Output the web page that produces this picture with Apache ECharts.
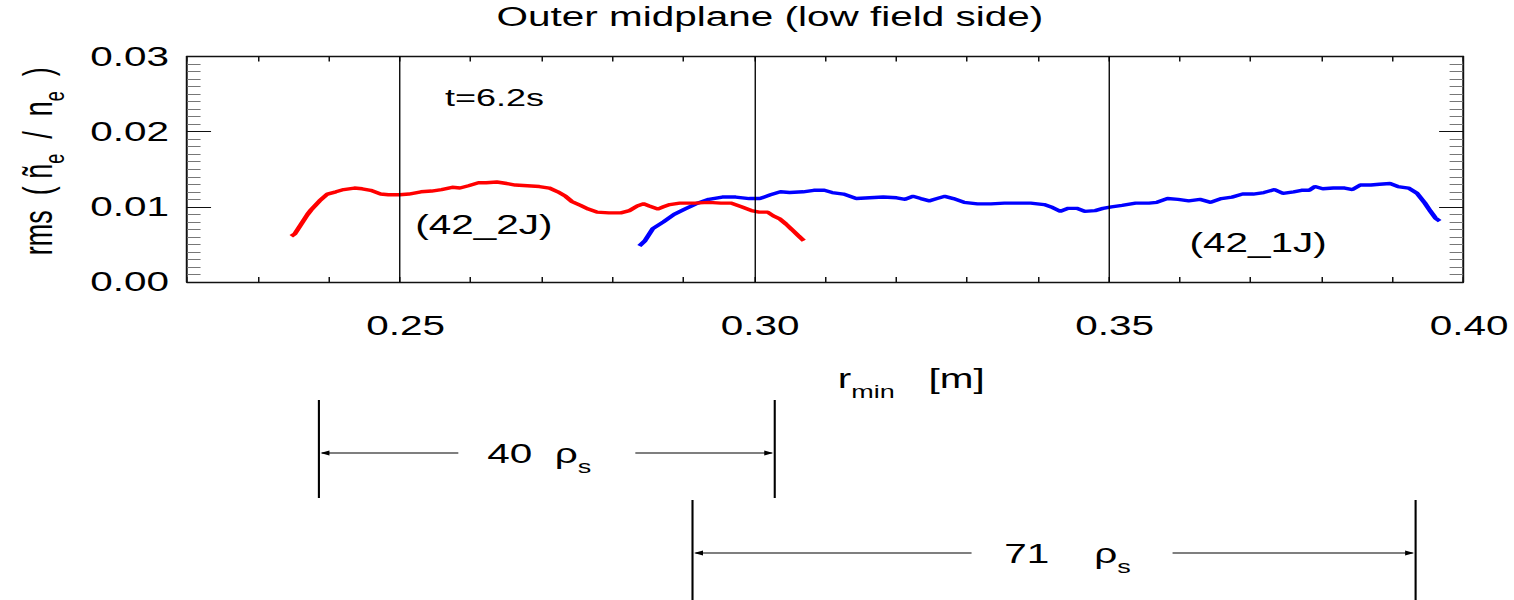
<!DOCTYPE html>
<html>
<head>
<meta charset="utf-8">
<script src="https://cdn.jsdelivr.net/npm/echarts@6/dist/echarts.min.js"></script>
<style>
html,body{margin:0;padding:0;background:#fff;overflow:hidden;}
#wrap{width:1514px;height:600px;overflow:hidden;}
#chart{width:1009.333px;height:600px;transform:scaleX(1.5);transform-origin:0 0;}
</style>
</head>
<body>
<div id="wrap"><div id="chart"></div></div>
<script>
// ---- data ----
const titleText = 'Outer midplane (low field side)';
const xMin = 0.22, xMax = 0.40, xStep = 0.01;
const yMin = 0.00, yMax = 0.03, yStep = 0.01;
const gridX = [0.25, 0.30, 0.35];

// red: probe 42_2J
const redX = [0.2347,0.2352,0.2361,0.2370,0.2375,0.2387,0.2398,0.2410,0.2421,0.2436,0.2447,0.2459,0.2473,0.2484,0.2500,0.2513,0.2530,0.2545,0.2559,0.2574,0.2585,0.2597,0.2611,0.2622,0.2637,0.2651,0.2663,0.2680,0.2697,0.2711,0.2723,0.2734,0.2743,0.2755,0.2766,0.2778,0.2795,0.2812,0.2824,0.2835,0.2844,0.2852,0.2864,0.2872,0.2881,0.2895,0.2916,0.2936,0.2953,0.2967,0.2982,0.2996,0.3007,0.3019,0.3027,0.3036,0.3045,0.3053,0.3062,0.3070];
const redY = [0.0061,0.0064,0.0077,0.0090,0.0096,0.0108,0.0117,0.0120,0.0123,0.0125,0.0124,0.0122,0.0117,0.0116,0.0116,0.0117,0.0120,0.0121,0.0123,0.0126,0.0125,0.0128,0.0132,0.0132,0.0133,0.0131,0.0129,0.0128,0.0127,0.0125,0.0120,0.0114,0.0107,0.0102,0.0097,0.0093,0.0092,0.0092,0.0095,0.0101,0.0104,0.0101,0.0097,0.0100,0.0103,0.0105,0.0105,0.0106,0.0105,0.0105,0.0100,0.0095,0.0093,0.0093,0.0088,0.0084,0.0077,0.0070,0.0062,0.0055];

// blue: probe 42_1J
const blueX = [0.2838,0.2846,0.2857,0.2872,0.2887,0.2902,0.2918,0.2936,0.2955,0.2974,0.2993,0.3008,0.3023,0.3037,0.3050,0.3069,0.3084,0.3099,0.3110,0.3126,0.3144,0.3163,0.3182,0.3201,0.3213,0.3224,0.3235,0.3247,0.3258,0.3269,0.3281,0.3296,0.3315,0.3334,0.3353,0.3371,0.3390,0.3409,0.3421,0.3432,0.3443,0.3455,0.3466,0.3481,0.3492,0.3504,0.3519,0.3538,0.3557,0.3568,0.3583,0.3598,0.3613,0.3629,0.3644,0.3659,0.3674,0.3689,0.3704,0.3719,0.3734,0.3746,0.3761,0.3772,0.3783,0.3791,0.3802,0.3817,0.3833,0.3844,0.3855,0.3870,0.3882,0.3897,0.3908,0.3923,0.3935,0.3946,0.3954,0.3961,0.3967];
const blueY = [0.0048,0.0055,0.0071,0.0080,0.0090,0.0097,0.0104,0.0110,0.0113,0.0113,0.0111,0.0111,0.0116,0.0120,0.0119,0.0120,0.0122,0.0122,0.0119,0.0117,0.0111,0.0112,0.0113,0.0112,0.0110,0.0114,0.0111,0.0108,0.0111,0.0114,0.0111,0.0106,0.0104,0.0104,0.0105,0.0105,0.0105,0.0103,0.0099,0.0094,0.0098,0.0098,0.0094,0.0095,0.0098,0.0100,0.0102,0.0105,0.0105,0.0106,0.0111,0.0110,0.0108,0.0110,0.0106,0.0111,0.0113,0.0117,0.0117,0.0119,0.0123,0.0118,0.0120,0.0122,0.0122,0.0127,0.0124,0.0125,0.0125,0.0123,0.0129,0.0129,0.0130,0.0131,0.0127,0.0125,0.0118,0.0105,0.0094,0.0085,0.0081];

// in-plot notes (data coordinates of their left/middle anchor)
const noteText = ['t=6.2s', '(42_2J)', '(42_1J)'];
const noteX = [0.2564, 0.2522, 0.3614];
const noteY = [0.0245, 0.0077, 0.0053];

// width brackets below the plot (radial extent in r_min)
const spanFrom = [0.2386, 0.2913];
const spanTo = [0.3029, 0.3933];
const spanValue = ['40', '71'];
const spanUnit = 'ρ';
const spanSub = 's';

// ---- layout / style constants ----
const FONT = '"Liberation Sans", Arial, Helvetica, sans-serif';
const bracketTop = [400, 500];
const bracketH = [98, 100];
const arrowDy = 53;
const gapHalf = [59, 67];
const gapShift = [0, 12];
const labelShift = [-5, 9];
const spanSpaces = ['  ', '    '];

const pairs = (xs, ys) => xs.map((x, i) => [x, ys[i]]);
const isMajor = v => Math.abs(v * 20 - Math.round(v * 20)) < 1e-6;

const dom = document.getElementById('chart');
const chart = echarts.init(dom, null, { renderer: 'svg' });

const axisLineStyle = { color: '#111', width: 1.3 };
const xAxisBase = {
  type: 'value', min: xMin, max: xMax, interval: xStep,
  axisLine: { show: true, onZero: false, lineStyle: axisLineStyle },
  axisTick: { show: true, inside: true, length: 5, lineStyle: { color: '#111', width: 1 } },
  splitLine: { show: false },
  minorTick: { show: false }
};
const yAxisBase = {
  type: 'value', min: yMin, max: yMax, interval: yStep,
  axisLine: { show: true, onZero: false, lineStyle: axisLineStyle },
  axisTick: { show: true, inside: true, length: 16, lineStyle: { color: '#111', width: 1 } },
  minorTick: { show: true, splitNumber: 10, length: 9, lineStyle: { color: '#777', width: 1 } },
  splitLine: { show: false }
};

const option = {
  animation: false,
  backgroundColor: '#fff',
  textStyle: { fontFamily: FONT },
  title: {
    text: titleText, left: 326, top: 0, padding: [3, 5, 3, 5],
    textStyle: { fontSize: 27, fontWeight: 'normal', color: '#000', fontFamily: FONT }
  },
  grid: { left: 124.7, top: 56.5, width: 850.7, height: 225.5, containLabel: false, outerBoundsMode: 'none' },
  xAxis: [
    Object.assign({}, xAxisBase, {
      position: 'bottom',
      axisLabel: {
        show: true, margin: 30, fontSize: 27, color: '#000', fontFamily: FONT,
        padding: [0, 0, 0, 8], showMinLabel: true, showMaxLabel: true,
        formatter: v => isMajor(v) ? v.toFixed(2) : ''
      },
      name: '{m|r}{s|min}{m|   [m]}',
      nameLocation: 'middle', nameGap: 83,
      nameTextStyle: {
        padding: [0, 0, 0, 115],
        rich: {
          m: { fontSize: 27, lineHeight: 30, verticalAlign: 'top', color: '#000', fontFamily: FONT },
          s: { fontSize: 18, lineHeight: 18, padding: [18, 0, 0, 0], verticalAlign: 'top', color: '#000', fontFamily: FONT }
        }
      }
    }),
    Object.assign({}, xAxisBase, { position: 'top', axisLabel: { show: false } })
  ],
  yAxis: [
    Object.assign({}, yAxisBase, {
      position: 'left',
      axisLabel: {
        show: true, margin: 12, fontSize: 27, color: '#000', fontFamily: FONT,
        showMinLabel: true, showMaxLabel: true,
        formatter: v => v.toFixed(2)
      },
      name: '{m|rms  ( ñ}{s|e}{m|  /  n}{s|e}{m|  )}',
      nameLocation: 'middle', nameGap: 83, nameRotate: 90,
      nameTextStyle: {
        padding: [0, 0, 0, 16],
        rich: {
          m: { fontSize: 27, lineHeight: 30, verticalAlign: 'top', color: '#000', fontFamily: FONT },
          s: { fontSize: 18, lineHeight: 18, padding: [16, 0, 0, 0], verticalAlign: 'top', color: '#000', fontFamily: FONT }
        }
      }
    }),
    Object.assign({}, yAxisBase, { position: 'right', axisLabel: { show: false } })
  ],
  series: [
    {
      name: '42_2J', type: 'line', xAxisIndex: 0, yAxisIndex: 0,
      data: pairs(redX, redY), showSymbol: false, symbol: 'none', smooth: false,
      lineStyle: { color: '#ff0000', width: 3.4 }, itemStyle: { color: '#ff0000' },
      markLine: {
        silent: true, symbol: ['none', 'none'], animation: false,
        label: { show: false },
        lineStyle: { color: '#000', width: 0.9, type: 'solid' },
        emphasis: { disabled: true },
        data: gridX.map(v => ({ xAxis: v }))
      },
      z: 3
    },
    {
      name: '42_1J', type: 'line', xAxisIndex: 0, yAxisIndex: 0,
      data: pairs(blueX, blueY), showSymbol: false, symbol: 'none', smooth: false,
      lineStyle: { color: '#0000ff', width: 3.4 }, itemStyle: { color: '#0000ff' },
      z: 2
    }
  ]
};
chart.setOption(option);

// ---- annotations positioned through the axis scales ----
const px = (x, y) => chart.convertToPixel({ xAxisIndex: 0, yAxisIndex: 0 }, [x, y]);
const graphics = [];
noteText.forEach((t, i) => {
  const p = px(noteX[i], noteY[i]);
  graphics.push({
    type: 'text', x: p[0], y: p[1], silent: true,
    style: { text: t, fill: '#000', fontSize: i === 0 ? 24 : 27, fontFamily: FONT, align: 'left', verticalAlign: 'middle' }
  });
});
spanFrom.forEach((v, i) => {
  const x1 = px(v, 0)[0];
  const x2 = px(spanTo[i], 0)[0];
  const top = bracketTop[i];
  const ay = top + arrowDy;
  const cx = (x1 + x2) / 2 + labelShift[i];
  const gc = (x1 + x2) / 2 + gapShift[i];
  const lineStyle = { stroke: '#000', lineWidth: 1 };
  graphics.push({ type: 'line', silent: true, shape: { x1: x1, y1: top, x2: x1, y2: top + bracketH[i] }, style: { stroke: '#000', lineWidth: 1.4 } });
  graphics.push({ type: 'line', silent: true, shape: { x1: x2, y1: top, x2: x2, y2: top + bracketH[i] }, style: { stroke: '#000', lineWidth: 1.4 } });
  graphics.push({ type: 'line', silent: true, shape: { x1: x1 + 2, y1: ay, x2: gc - gapHalf[i], y2: ay }, style: lineStyle });
  graphics.push({ type: 'line', silent: true, shape: { x1: gc + gapHalf[i], y1: ay, x2: x2 - 2, y2: ay }, style: lineStyle });
  graphics.push({ type: 'polygon', silent: true, shape: { points: [[x1 + 1, ay], [x1 + 7, ay - 2.6], [x1 + 7, ay + 2.6]] }, style: { fill: '#000' } });
  graphics.push({ type: 'polygon', silent: true, shape: { points: [[x2 - 1, ay], [x2 - 7, ay - 2.6], [x2 - 7, ay + 2.6]] }, style: { fill: '#000' } });
  graphics.push({
    type: 'text', x: cx, y: ay - 13, silent: true,
    style: {
      text: '{m|' + spanValue[i] + spanSpaces[i] + spanUnit + '}{s|' + spanSub + '}',
      align: 'center', verticalAlign: 'top',
      rich: {
        m: { fontSize: 27, lineHeight: 30, verticalAlign: 'top', fill: '#000', fontFamily: FONT },
        s: { fontSize: 18, lineHeight: 18, padding: [18, 0, 0, 0], verticalAlign: 'top', fill: '#000', fontFamily: FONT }
      }
    }
  });
});
chart.setOption({ graphic: graphics });
</script>
</body>
</html>
